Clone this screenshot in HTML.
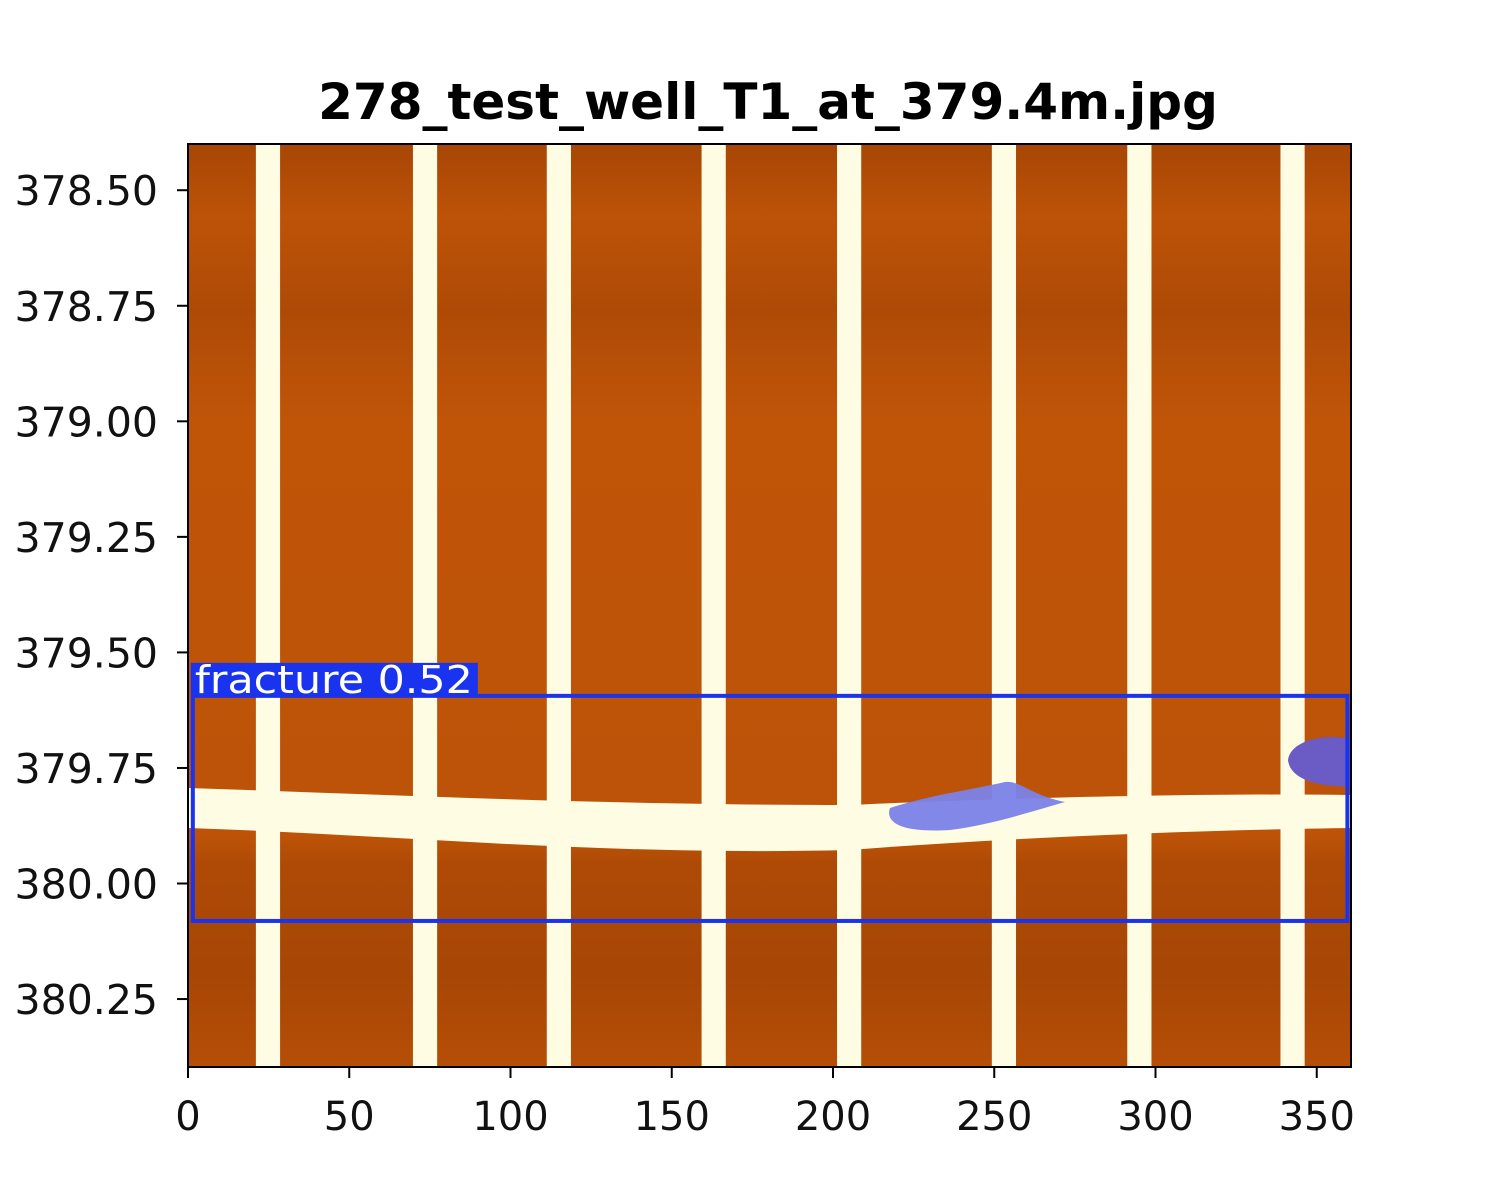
<!DOCTYPE html>
<html><head><meta charset="utf-8"><style>
body{margin:0;background:#fff;}
svg{display:block;font-family:"DejaVu Sans","Liberation Sans",sans-serif;}
</style></head><body>
<svg id="c" width="1500" height="1200">
<text x="768" y="119" text-anchor="middle" font-size="50" font-weight="bold" fill="#000">278_test_well_T1_at_379.4m.jpg</text>
<defs>
<linearGradient id="shade" x1="0" y1="0" x2="0" y2="1">
<stop offset="0" stop-color="#7a2a00" stop-opacity="0.35"/>
<stop offset="0.08" stop-color="#7a2a00" stop-opacity="0.05"/>
<stop offset="0.18" stop-color="#7a2a00" stop-opacity="0.25"/>
<stop offset="0.3" stop-color="#7a2a00" stop-opacity="0"/>
<stop offset="0.75" stop-color="#7a2a00" stop-opacity="0.05"/>
<stop offset="0.78" stop-color="#7a2a00" stop-opacity="0.25"/>
<stop offset="0.9" stop-color="#7a2a00" stop-opacity="0.35"/>
<stop offset="1" stop-color="#7a2a00" stop-opacity="0.15"/>
</linearGradient>
<clipPath id="clip"><rect x="188" y="144" width="1163" height="923"/></clipPath>
</defs>
<g id="plot" clip-path="url(#clip)"></g>
<rect x="188" y="144" width="1163" height="923" fill="none" stroke="#000" stroke-width="2"/>
<g id="axes"></g>
</svg>
<script>
const xTicks=[0,50,100,150,200,250,300,350];
const yTicks=[378.50,378.75,379.00,379.25,379.50,379.75,380.00,380.25];
const stripeCenters=[24.8,73.5,115,163,205,253,295,342.5];
const stripeWidth=7.5;
const boxX=[1.5,359.5];
const boxY=[379.594,380.081];
const boxLabel="fracture 0.52";
const X0=188,X1=1349,XMIN=0,XMAX=360;
const Y0=144,Y1=1067,YMIN=378.40,YMAX=380.397;
const xs=v=>X0+(v-XMIN)/(XMAX-XMIN)*(X1-X0);
const ys=v=>Y0+(v-YMIN)/(YMAX-YMIN)*(Y1-Y0);
const NS="http://www.w3.org/2000/svg";
function mk(t,a,p){const e=document.createElementNS(NS,t);for(const k in a)e.setAttribute(k,a[k]);p.appendChild(e);return e;}
const plot=document.getElementById('plot'),axes=document.getElementById('axes');
let bg=mk('rect',{x:188,y:144,width:1163,height:923,fill:'#c05508'},plot);


let sh=mk('rect',{x:188,y:144,width:1163,height:923,fill:'url(#shade)'},plot);


stripeCenters.forEach((c,i)=>{
  const r=mk('rect',{x:xs(c-stripeWidth/2),y:144,width:xs(stripeWidth)-xs(0),height:923,fill:'#fffce4'},plot);
  
  
});
let band=mk('path',{d:'M188 788 C400 795 600 805 850 805 C1000 798 1200 793 1351 795 L1351 828 C1200 830 1000 838 850 850 C600 856 400 835 188 828 Z',fill:'#fffce4'},plot);


let b1=mk('path',{d:'M890 808 C930 795 970 790 1005 782 C1020 780 1030 795 1065 802 C1030 812 990 825 950 830 C900 833 885 822 890 808 Z',fill:'#7b82e8',opacity:0.95},plot);


let b2=mk('path',{d:'M1288 760 C1290 742 1320 734 1345 738 L1355 740 L1355 786 C1320 788 1290 780 1288 760 Z',fill:'#6a5cc4'},plot);


const bx=xs(boxX[0]),bx2=xs(boxX[1]),by=ys(boxY[0]),by2=ys(boxY[1]);
let box=mk('rect',{x:bx,y:by,width:bx2-bx,height:by2-by,fill:'none',stroke:'#1a33ee','stroke-width':4},axes);


let lb=mk('rect',{x:bx-2,y:by-33,width:287,height:33,fill:'#1a33ee'},axes);


let lt=mk('text',{x:bx+2,y:by-3,'font-size':38,fill:'#fff','font-family':'DejaVu Sans, sans-serif',textLength:278,lengthAdjust:'spacingAndGlyphs'},axes);
lt.textContent=boxLabel;


xTicks.forEach(v=>{
  const x=xs(v);
  const l=mk('line',{x1:x,x2:x,y1:1067,y2:1078,stroke:'#000','stroke-width':2},axes);
  
  
  const t=mk('text',{x:x,y:1130,'text-anchor':'middle','font-size':40,fill:'#111'},axes);
  t.textContent=v;
  
  
});
yTicks.forEach(v=>{
  const y=ys(v);
  const l=mk('line',{x1:177,x2:188,y1:y,y2:y,stroke:'#000','stroke-width':2},axes);
  
  
  const t=mk('text',{x:158,y:y+15,'text-anchor':'end','font-size':41,fill:'#111'},axes);
  t.textContent=v.toFixed(2);
  
  
});
</script>
</body></html>
